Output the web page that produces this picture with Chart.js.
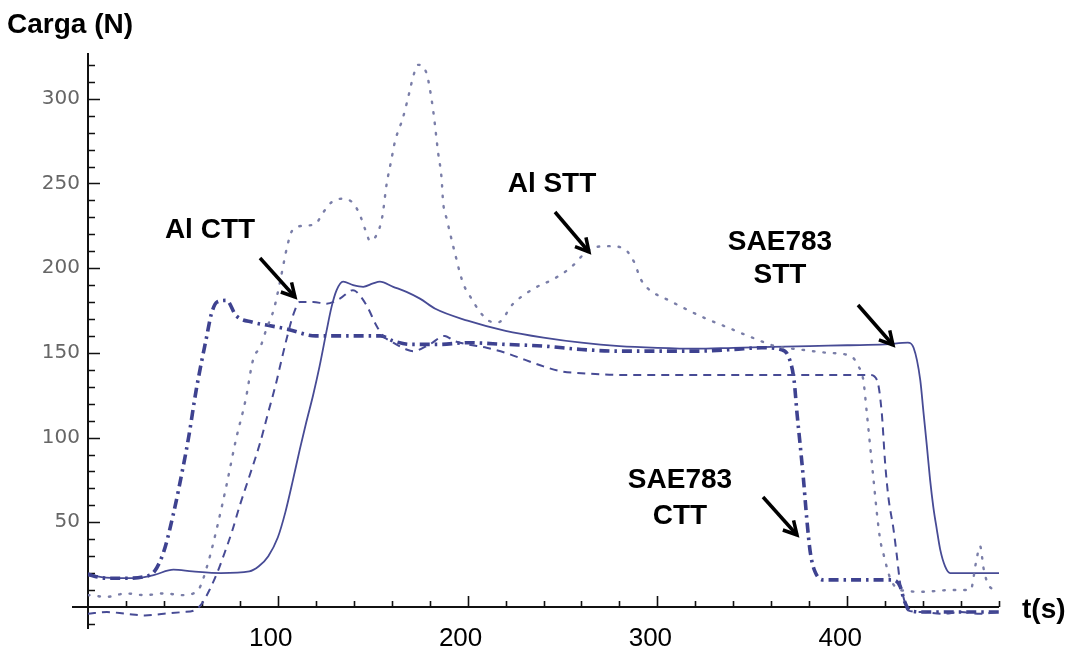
<!DOCTYPE html>
<html><head><meta charset="utf-8">
<script src="https://cdn.jsdelivr.net/npm/chart.js@4.4.1/dist/chart.umd.min.js"></script>
<style>html,body{margin:0;padding:0;background:#fff;}#wrap{width:1079px;height:655px;position:relative;background:#fff;}</style>
</head><body><div id="wrap"><canvas id="c" width="1079" height="655"></canvas></div>
<script>
// Tick labels
const xTickValues = [100, 200, 300, 400];
const yTickValues = [50, 100, 150, 200, 250, 300];

// Series: [time (s), load (N)]
const sae783Stt = [[0,20],[5,18],[15,17],[25,17],[35,19],[45,22],[55,21],[70,20],[85,21],[90,24],[95,30],[100,41],[104,56],[108,75],[111.6,93],[115,109],[118.6,125],[122,142],[125.7,163],[128.3,177],[131,187],[134.4,192],[139.7,190],[145,189],[150.2,191],[153.8,192],[160.8,189],[167.8,186],[174.9,182],[183,176],[200,169],[220,163],[240,159],[260,156],[280,154],[300,153],[320,152.5],[340,153],[360,153.5],[380,154],[400,154.5],[420,155],[432,156],[435,153],[438.5,134],[440.2,115],[442,95],[443.7,75],[445.4,59],[447.2,46],[449,34],[451.6,24],[454.3,20],[460,20],[470,20],[480,20]];

const sae783Ctt = [[0,19],[10,17],[20,17],[30,18],[35,21],[40,33],[45,55],[50,82],[53,100],[57,128],[62.6,160],[65,173],[68,180],[73,181],[78,172],[87,168],[96,166],[105,164],[120,160],[138,160],[154,160],[161,157],[170,155],[185,155],[200,156],[220,155],[240,154],[260,152],[280,151],[300,151],[320,151],[340,152],[355,153],[365,152],[369,148],[372,134],[373.6,114],[375.3,95],[377,75],[378.8,51],[380.6,32],[383,21],[387.6,16],[400,16],[424,16],[428,12],[430,4],[433,-2],[440,-3],[480,-3]];

const alCtt = [[0,-4],[10,-3],[20,-4],[30,-5],[40,-4],[50,-3],[56,-2],[60,2],[64,10],[68,20],[72,32],[76,45],[80,60],[85,77],[90.7,97],[95,115],[99.3,133],[102,146],[104.6,158],[108,172],[111.6,180],[118.6,180],[125.7,179],[132.7,182],[139.6,187],[141.5,186],[146.8,178],[152,166],[155.5,160],[160.8,156],[167.8,152],[171.3,151],[180,155],[188,160],[193,157],[200,155],[210,153],[220,150],[230,146],[240,142],[250,139],[260,138],[280,137],[300,137],[320,137],[340,137],[360,137],[380,137],[400,137],[412,137],[415.7,134],[418.2,115],[420,85],[421.7,65],[424.4,46],[426.2,30],[427.9,14],[429.6,6],[432,-2],[440,-3],[450,-4],[460,-3],[470,-4],[480,-3]];

const alStt = [[0,7],[10,6],[20,8],[30,7],[40,8],[50,7],[58,10],[63,25],[68,47],[73,72],[78,99],[83,122],[87,146],[91,154],[94,164],[98,176],[101,191],[105,213],[107.5,222],[113.5,225],[119.7,226],[124,233],[128.4,239],[134.6,241],[140,238],[143.4,231],[146,223],[148.7,216],[152.2,220],[155,230],[157.4,250],[159.5,262],[161.8,275],[166,289],[169.6,305],[171.3,313],[174,320],[178.4,315],[180.1,306],[182,292],[184.5,268],[186.3,253],[187.1,239],[189,229],[190.7,221],[192.4,213],[194.2,205],[196,197],[198,190],[201.5,183],[206,175],[211,169],[216,168],[224,179],[235,188],[246,194],[255,201],[261,208],[266,212],[275,213],[283,211],[288,203],[291,194],[295,188],[306,181],[313,177],[324,171],[337,165],[350,159],[362,154],[375,152],[390,150],[402,148],[406,142],[408.5,134],[410.4,114],[412.2,94],[414,74],[415.7,55],[417.5,39],[419.2,31],[421,23],[423,16],[428,10],[440,9],[455,10],[465,10],[468,27],[470,36],[472,22],[475,12],[480,10]];

const toXY = arr => arr.map(p => ({x: p[0], y: p[1]}));

const annotations = [
  {lines: ['Al CTT'], cx: 210, baselines: [238], arrow: [260, 258, 295, 297]},
  {lines: ['Al STT'], cx: 552, baselines: [192], arrow: [555, 212, 589, 252]},
  {lines: ['SAE783', 'STT'], cx: 780, baselines: [250, 283], arrow: [858, 305, 893, 345]},
  {lines: ['SAE783', 'CTT'], cx: 680, baselines: [488, 524], arrow: [763, 497, 797, 535]}
];

const axesPlugin = {
  id: 'mathAxes',
  beforeDatasetsDraw(chart) {
    const ctx = chart.ctx, xs = chart.scales.x, ys = chart.scales.y;
    const x0 = xs.getPixelForValue(0), y0 = ys.getPixelForValue(0);
    ctx.save();
    ctx.strokeStyle = '#111';
    ctx.lineWidth = 2;
    ctx.beginPath();
    ctx.moveTo(72, y0); ctx.lineTo(xs.getPixelForValue(480), y0);
    ctx.moveTo(x0, ys.getPixelForValue(327)); ctx.lineTo(x0, ys.getPixelForValue(-13));
    ctx.stroke();
    ctx.lineWidth = 1.6;
    ctx.beginPath();
    for (let t = 20; t <= 480; t += 20) {
      const px = Math.round(xs.getPixelForValue(t)) + 0.5;
      const len = (t % 100 === 0) ? 11 : 6;
      ctx.moveTo(px, y0); ctx.lineTo(px, y0 - len);
    }
    for (let v = -10; v <= 320; v += 10) {
      if (v === 0) continue;
      const py = Math.round(ys.getPixelForValue(v)) + 0.5;
      const len = (v % 50 === 0) ? 12 : 7;
      ctx.moveTo(x0, py); ctx.lineTo(x0 + len, py);
    }
    ctx.stroke();
    ctx.restore();
  },
  afterDraw(chart) {
    const ctx = chart.ctx, xs = chart.scales.x, ys = chart.scales.y;
    const x0 = xs.getPixelForValue(0);
    ctx.save();
    // y tick labels
    ctx.fillStyle = '#666';
    ctx.font = '20px "DejaVu Sans"';
    ctx.textAlign = 'right';
    ctx.textBaseline = 'middle';
    yTickValues.forEach(v => ctx.fillText(String(v), x0 - 8, ys.getPixelForValue(v)));
    // x tick labels
    ctx.fillStyle = '#000';
    ctx.font = '26px "Liberation Sans", Arial';
    ctx.textAlign = 'center';
    ctx.textBaseline = 'alphabetic';
    xTickValues.forEach(t => ctx.fillText(String(t), xs.getPixelForValue(t) - 7, 646));
    // axis titles
    ctx.font = 'bold 28px "Liberation Sans", Arial';
    ctx.textAlign = 'left';
    ctx.fillText('Carga (N)', 7, 33);
    ctx.fillText('t(s)', 1022, 618);
    // annotations
    ctx.textAlign = 'center';
    annotations.forEach(a => {
      a.lines.forEach((s, i) => ctx.fillText(s, a.cx, a.baselines[i]));
      const [x1, y1, x2, y2] = a.arrow;
      ctx.strokeStyle = '#000';
      ctx.lineWidth = 3.5;
      ctx.lineCap = 'butt';
      ctx.beginPath(); ctx.moveTo(x1, y1); ctx.lineTo(x2, y2); ctx.stroke();
      const ang = Math.atan2(y2 - y1, x2 - x1), hl = 15, spread = 0.5;
      ctx.beginPath();
      ctx.moveTo(x2 - hl * Math.cos(ang - spread), y2 - hl * Math.sin(ang - spread));
      ctx.lineTo(x2, y2);
      ctx.lineTo(x2 - hl * Math.cos(ang + spread), y2 - hl * Math.sin(ang + spread));
      ctx.lineJoin = 'miter';
      ctx.stroke();
    });
    ctx.restore();
  }
};

const lineColor = '#474b95';
new Chart(document.getElementById('c'), {
  type: 'line',
  data: {
    datasets: [
      {label: 'Al STT', data: toXY(alStt), borderColor: '#7a7ea8', borderWidth: 2.4, borderDash: [1.5, 9], borderCapStyle: 'round'},
      {label: 'Al CTT', data: toXY(alCtt), borderColor: lineColor, borderWidth: 2, borderDash: [8, 6]},
      {label: 'SAE783 CTT', data: toXY(sae783Ctt), borderColor: '#3e4290', borderWidth: 3.6, borderDash: [10, 5, 2.5, 5]},
      {label: 'SAE783 STT', data: toXY(sae783Stt), borderColor: lineColor, borderWidth: 1.8}
    ]
  },
  options: {
    responsive: false,
    animation: false,
    devicePixelRatio: 1,
    layout: {padding: {left: 88, right: 80, top: 53, bottom: 26}},
    elements: {point: {radius: 0}, line: {cubicInterpolationMode: 'monotone', fill: false}},
    plugins: {legend: {display: false}, tooltip: {enabled: false}},
    scales: {
      x: {type: 'linear', min: 0, max: 480, display: false},
      y: {type: 'linear', min: -13, max: 327, display: false}
    }
  },
  plugins: [axesPlugin]
});
</script>
</body></html>
